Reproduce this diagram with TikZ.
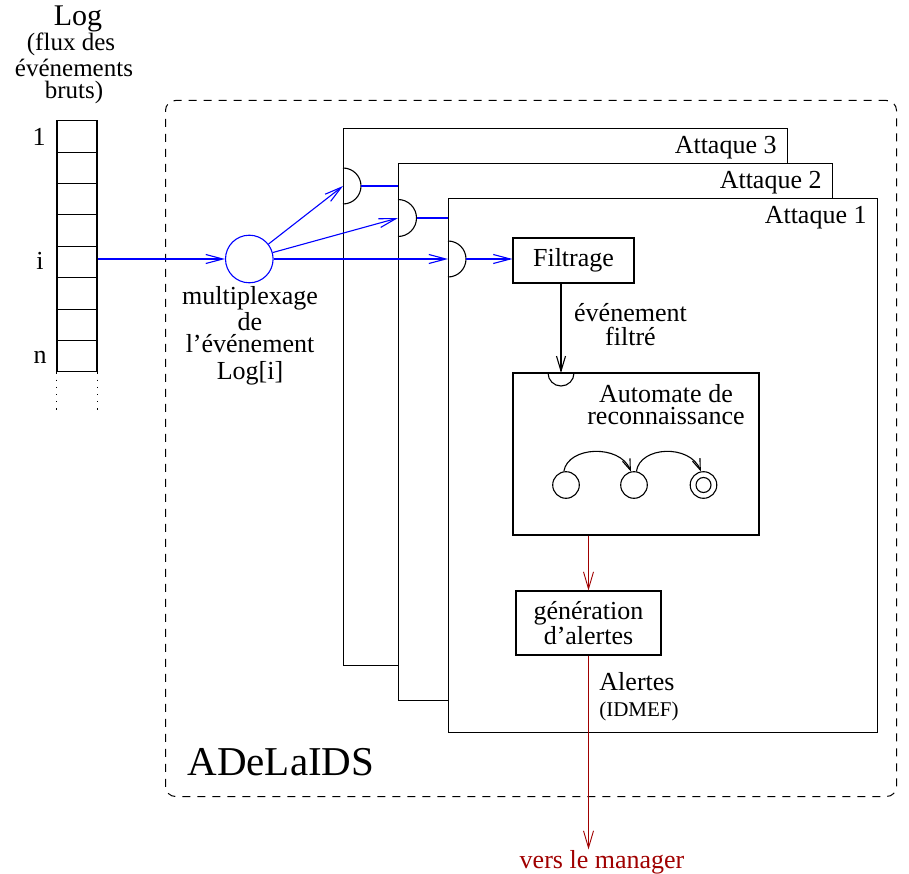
\documentclass[tikz,border=0pt]{standalone}
\usepackage{fontspec}
\setmainfont{Liberation Serif}
\usetikzlibrary{arrows.meta,calc}
\definecolor{flowblue}{RGB}{0,0,255}
\definecolor{alertred}{RGB}{160,0,0}

\begin{document}
\begin{tikzpicture}[x=1pt,y=-1pt,
  line width=1.1pt,
  txt/.style={inner sep=0pt, font=\fontsize{26}{23}\selectfont},
  smalltxt/.style={inner sep=0pt, font=\fontsize{21}{21}\selectfont},
  box/.style={draw, fill=white, inner sep=0pt, align=center,
    font=\fontsize{26}{23}\selectfont},
  attack/.style={draw, fill=white, anchor=north west, inner sep=0pt},
  cell/.style={draw, minimum width=40pt, minimum height=31.4pt, inner sep=0pt},
  state/.style={draw, circle, minimum size=26.6pt, inner sep=0pt},
  bluearrow/.style={draw=flowblue, -{Straight Barb[length=17pt,width=9pt]}},
  blackarrow/.style={-{Straight Barb[length=15pt,width=9pt]}},
  redarrow/.style={draw=alertred, line width=0.9pt,
    -{Straight Barb[length=17pt,width=10pt]}},
  stateedge/.style={-{Straight Barb[length=11pt,width=8pt]}}
]
\useasboundingbox (0,0) rectangle (909,874);

% dashed frame of the IDS
\node[draw, dash pattern=on 8pt off 7pt, rounded corners=10pt, line width=1pt,
  minimum width=731pt, minimum height=696pt, anchor=north west, inner sep=0pt]
  (frame) at (165,100) {};
\node[inner sep=0pt, font=\fontsize{41}{41}\selectfont, anchor=base west]
  (idsname) at (187,775) {ADeLaIDS};

% event log column
\node[txt, font=\fontsize{30}{30}\selectfont, anchor=base] (logtitle) at (78,26) {Log};
\node[txt, font=\fontsize{25}{25}\selectfont, anchor=base] (logsubA) at (71,51) {(flux des};
\node[txt, font=\fontsize{25}{25}\selectfont, anchor=base] (logsubB) at (74,77) {événements};
\node[txt, font=\fontsize{25}{25}\selectfont, anchor=base] (logsubC) at (74,99) {bruts)};
\foreach \k in {1,...,8}
  \node[cell] (c\k) at (77,{120.7+31.4*(\k-0.5)}) {};
\draw[dash pattern=on 1.2pt off 6pt] (c8.south west) -- ++(0,40);
\draw[dash pattern=on 1.2pt off 6pt] (c8.south east) -- ++(0,40);
\node[txt, anchor=base] (idxone) at (39,146) {1};
\node[txt, anchor=base] (idxi) at (40,270) {i};
\node[txt, anchor=base] (idxn) at (40,363) {n};

% multiplexer
\node[draw=flowblue, circle, minimum size=47.6pt, inner sep=0pt] (mux) at (249.3,259) {};
\node[txt, anchor=base] (muxA) at (250,305) {multiplexage};
\node[txt, anchor=base] (muxB) at (250,330) {de};
\node[txt, anchor=base] (muxC) at (250,352) {l’événement};
\node[txt, anchor=base] (muxD) at (250,379) {Log[i]};

% port positions on the attack boxes
\coordinate (p3) at (343,186);
\coordinate (p2) at (398,218);
\coordinate (p1) at (448,259);

% attack 3
\node[attack, minimum width=444pt, minimum height=537pt] (a3) at (343,128) {};
\node[txt, anchor=base east] (t3) at ([xshift=-11pt,yshift=-26pt]a3.north east) {Attaque 3};
\draw ([yshift=18pt]p3) arc[start angle=90,end angle=-90,radius=18pt];
\draw[flowblue] ([xshift=18pt]p3) -- (398,186);

% attack 2
\node[attack, minimum width=434pt, minimum height=537pt] (a2) at (398,163) {};
\node[txt, anchor=base east] (t2) at ([xshift=-11pt,yshift=-26pt]a2.north east) {Attaque 2};
\draw ([yshift=18.5pt]p2) arc[start angle=90,end angle=-90,radius=18.5pt];
\draw[flowblue] ([xshift=18.5pt]p2) -- (448,218);

% attack 1
\node[attack, minimum width=429pt, minimum height=534pt] (a1) at (448,198) {};
\node[txt, anchor=base east] (t1) at ([xshift=-11pt,yshift=-26pt]a1.north east) {Attaque 1};
\draw ([yshift=18pt]p1) arc[start angle=90,end angle=-90,radius=18pt];

% inside attack 1
\node[box, minimum width=121pt, minimum height=45pt] (filt) at (573.5,260.5) {Filtrage};
\draw[bluearrow] ([xshift=18pt]p1) -- (filt.west |- p1);

\node[draw, inner sep=0pt, minimum width=246pt, minimum height=162pt] (auto) at (636,454) {};
\coordinate (ap) at (561,373);
\draw ([xshift=-13pt]ap) arc[start angle=180,end angle=360,radius=13pt];
\draw[blackarrow] (filt.south -| ap) -- (ap);
\node[txt, anchor=base] (filtA) at (630.5,321) {événement};
\node[txt, anchor=base] (filtB) at (630.5,345) {filtré};
\node[txt, anchor=base] (autoA) at (666,402) {Automate de};
\node[txt, anchor=base] (autoB) at (666,424) {reconnaissance};

\node[state] (s1) at (566,485) {};
\node[state] (s2) at (634,485) {};
\node[state] (s3) at (703.5,485) {};
\draw (s3) circle[radius=7.5pt];
\draw[stateedge] (s1.99) .. controls (568,446) and (620,444) .. (s2.103);
\draw[stateedge] (s2.80) .. controls (640,446) and (690,444) .. (s3.101);

\node[box, minimum width=145pt, minimum height=64pt] (gen) at (588.5,623)
  {génération\\d’alertes};
\draw[redarrow] (gen.north |- auto.south) -- (gen.north);

\node[txt, anchor=base] (alA) at (637,690) {Alertes};
\node[smalltxt, anchor=base] (alB) at (639,716) {(IDMEF)};
\node[txt, text=alertred, anchor=base] (mgr) at (602,868) {vers le manager};
\draw[redarrow] (gen.south) -- (gen.south |- mgr.north);

% event routing
\draw[bluearrow] (c5.east |- mux) -- (mux);
\draw[bluearrow] (mux) -- (p3);
\draw[bluearrow] (mux) -- (p2);
\draw[bluearrow] (mux) -- (p1);
\end{tikzpicture}
\end{document}
